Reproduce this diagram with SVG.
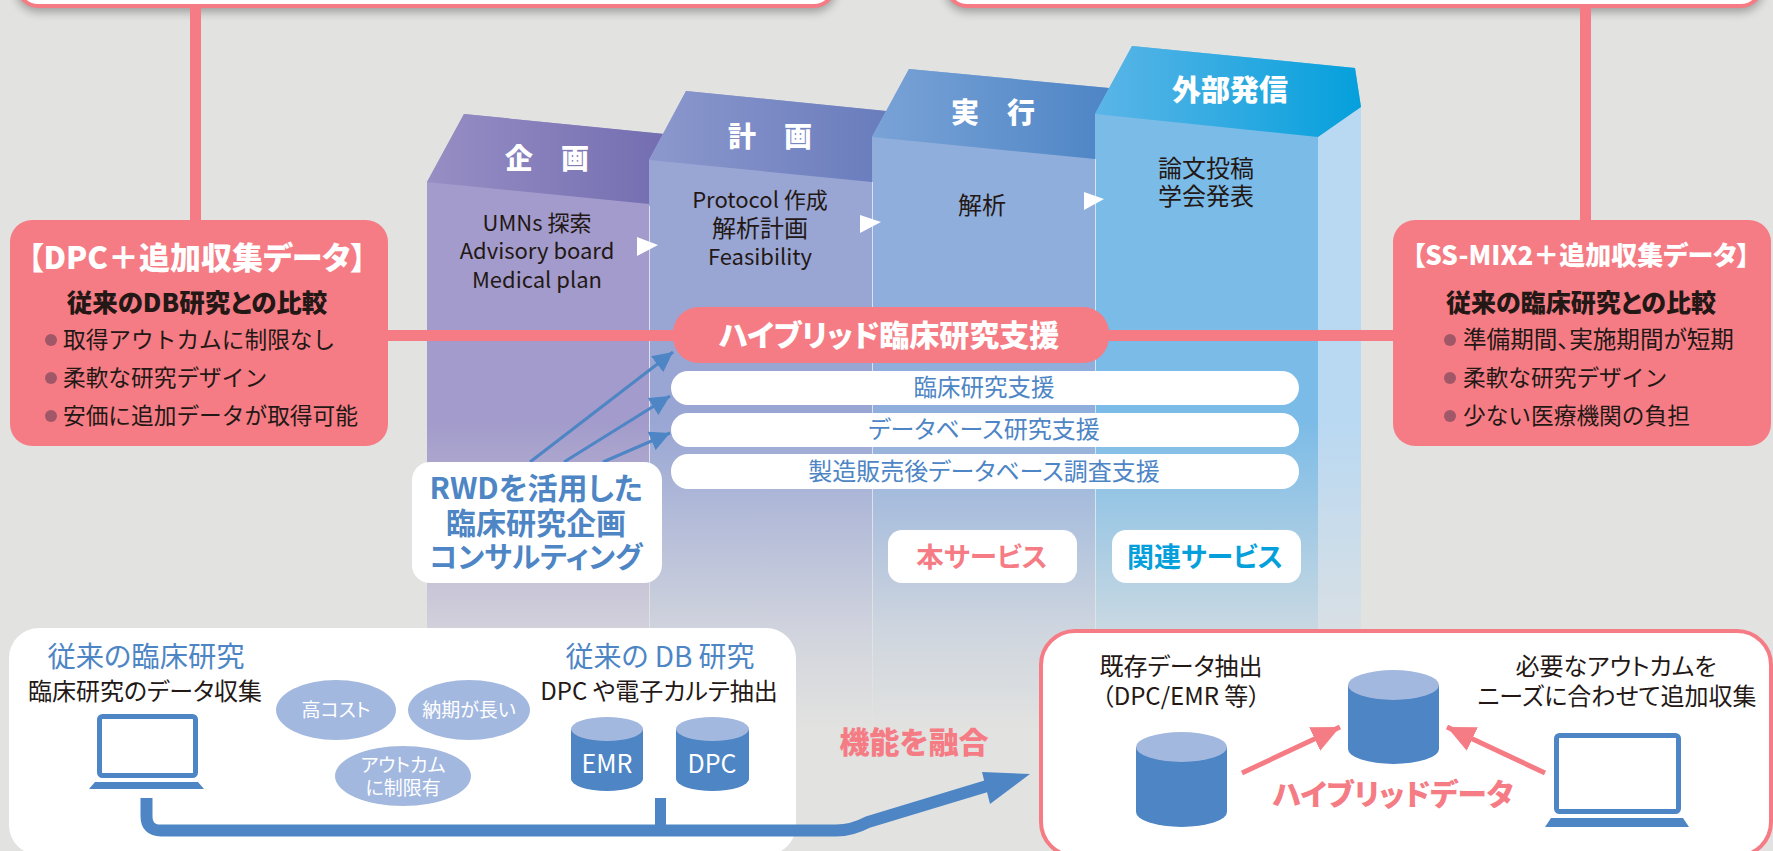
<svg xmlns="http://www.w3.org/2000/svg" width="1773" height="851" viewBox="0 0 1773 851">
<style>
text{font-family:"Noto Sans CJK JP","Noto Sans",sans-serif;font-feature-settings:"palt";text-anchor:middle;fill:#231815}
.b{font-weight:700}
.blk{font-weight:900}
.w{fill:#fff}
.bl{fill:#4d85c5}
.pk{fill:#f57c84}
.sky{fill:#05a0dc}
.col{font-size:22px}
.colj{font-size:24px}
.item{font-size:22.700px;text-anchor:start;font-feature-settings:normal}
.dot{fill:#a05768}
.box{fill:#f57c84}
.wbar{fill:#fff}
.sep{stroke:#fff;stroke-width:1;opacity:.65}
.cylb{fill:#4d85c5}
.cylt{fill:#a3b8df}
.lap{fill:#fff;stroke:#4d85c5}
.lapb{fill:#4d85c5}
.ell{fill:#a3b8df}
.tri{fill:#fff}
.pline{fill:none;stroke:#f57c84}
.bline{fill:none;stroke:#4d85c5}
</style>
<defs>
<linearGradient id="r1" x1="0" x2="1" y1="0" y2="0"><stop offset="0" stop-color="#978ec4"/><stop offset="1" stop-color="#736eb1"/></linearGradient>
<linearGradient id="r2" x1="0" x2="1" y1="0" y2="0"><stop offset="0" stop-color="#8c98cd"/><stop offset="1" stop-color="#697cbc"/></linearGradient>
<linearGradient id="r3" x1="0" x2="1" y1="0" y2="0"><stop offset="0" stop-color="#7aa3d7"/><stop offset="1" stop-color="#4e85c5"/></linearGradient>
<linearGradient id="r4" x1="0" x2="1" y1="0" y2="0"><stop offset="0" stop-color="#5bb5e7"/><stop offset="1" stop-color="#05a0dc"/></linearGradient>
<linearGradient id="fade" gradientUnits="userSpaceOnUse" x1="0" x2="0" y1="420" y2="730"><stop offset="0" stop-color="#e2e2e0" stop-opacity="0"/><stop offset=".7" stop-color="#e2e2e0" stop-opacity=".78"/><stop offset="1" stop-color="#e2e2e0"/></linearGradient>
<filter id="sh" x="-5%" y="-50%" width="110%" height="200%"><feGaussianBlur stdDeviation="5"/></filter>
<marker id="ab" markerUnits="userSpaceOnUse" markerWidth="22" markerHeight="20" refX="20" refY="10" orient="auto"><path d="M0 0L20 10L0 20Z" fill="#4d85c5"/></marker>
<marker id="ap" markerUnits="userSpaceOnUse" markerWidth="30" markerHeight="26" refX="28" refY="13" orient="auto"><path d="M0 0L28 13L0 26Z" fill="#f57c84"/></marker>
</defs>
<rect width="1773" height="851" fill="#e2e2e0"/>

<g id="col-planning">
<path d="M427 182L464 114L663 134L649 206V730H427Z" fill="#a29bcb"/>
<path d="M427 182L464 114L665 134L649 204Z" fill="url(#r1)"/>
</g>
<g id="col-plan">
<path d="M649 160L686 91L886 111L872 182V730H649Z" fill="#99a6d4"/>
<path d="M649 160L686 91L886 111L872 182Z" fill="url(#r2)"/>
</g>
<g id="col-exec">
<path d="M872 137L909 69L1109 88L1095 159V730H872Z" fill="#90aedb"/>
<path d="M872 137L909 69L1109 88L1095 159Z" fill="url(#r3)"/>
</g>
<g id="col-pub">
<path d="M1095 114L1132 46L1355 68L1361 107L1318 137V730H1095Z" fill="#7bbbe7"/>
<path d="M1318 137L1361 107V730H1318Z" fill="#b9d8f2"/>
<path d="M1095 114L1132 46L1355 68L1361 107L1318 137Z" fill="url(#r4)"/>
</g>
<path class="sep" d="M649.500 206V730M872.500 182V730M1095.500 159V730"/>
<rect x="427" y="420" width="934" height="310" fill="url(#fade)"/>

<text class="blk w" font-size="28" x="547" y="169">企　画</text>
<text class="blk w" font-size="28" x="770" y="147">計　画</text>
<text class="blk w" font-size="28" x="993" y="123">実　行</text>
<text class="blk w" font-size="29" x="1230" y="101">外部発信</text>
<text class="col" x="537" y="231">UMNs 探索</text>
<text class="col" x="537" y="259">Advisory board</text>
<text class="col" x="537" y="288">Medical plan</text>
<text class="col" x="760" y="208">Protocol 作成</text>
<text class="colj" x="760" y="237">解析計画</text>
<text class="col" x="760" y="265">Feasibility</text>
<text class="colj" x="982" y="214">解析</text>
<text class="colj" x="1206" y="177">論文投稿</text>
<text class="colj" x="1206" y="205">学会発表</text>
<path class="tri" d="M637 237L658 245L637 256Z"/>
<path class="tri" d="M860 215L881 222L860 233Z"/>
<path class="tri" d="M1084 192L1104 199L1084 210Z"/>

<g id="top-left-box">
<rect x="16" y="-60" width="820" height="72" rx="22" fill="#000" opacity=".3" filter="url(#sh)"/>
<rect x="18" y="-60" width="816" height="66" rx="20" fill="#fff" stroke="#f57c84" stroke-width="4"/>
</g>
<g id="top-right-box">
<rect x="945" y="-60" width="818" height="72" rx="22" fill="#000" opacity=".3" filter="url(#sh)"/>
<rect x="947" y="-60" width="814" height="66" rx="20" fill="#fff" stroke="#f57c84" stroke-width="4"/>
</g>

<g id="connectors">
<path class="pline" stroke-width="11" d="M195.500 8V220M1585.500 8V220"/>
<path class="pline" stroke-width="11" d="M388 335.500H1393"/>
<path class="bline" stroke-width="3" d="M530 462L673 352" marker-end="url(#ab)"/>
<path class="bline" stroke-width="3" d="M564 462L670 396" marker-end="url(#ab)"/>
<path class="bline" stroke-width="3" d="M603 462L670 433" marker-end="url(#ab)"/>
</g>

<g id="dpc-box">
<rect class="box" x="10" y="220" width="378" height="226" rx="22"/>
<text class="blk w" font-size="31" x="197" y="269">【DPC＋追加収集データ】</text>
<text class="blk" font-size="25.500" x="197" y="312">従来のDB研究との比較</text>
<circle class="dot" cx="51" cy="340" r="6"/><text class="item" x="63" y="348">取得アウトカムに制限なし</text>
<circle class="dot" cx="51" cy="378" r="6"/><text class="item" x="63" y="386">柔軟な研究デザイン</text>
<circle class="dot" cx="51" cy="416" r="6"/><text class="item" x="63" y="424">安価に追加データが取得可能</text>
</g>
<g id="ssmix-box">
<rect class="box" x="1393" y="220" width="378" height="226" rx="22"/>
<text class="blk w" font-size="26" x="1581" y="265">【SS-MIX2＋追加収集データ】</text>
<text class="blk" font-size="25" x="1581" y="312">従来の臨床研究との比較</text>
<circle class="dot" cx="1450" cy="340" r="6"/><text class="item" style="font-feature-settings:'palt';font-size:23.600px" x="1463" y="348">準備期間、実施期間が短期</text>
<circle class="dot" cx="1450" cy="378" r="6"/><text class="item" x="1463" y="386">柔軟な研究デザイン</text>
<circle class="dot" cx="1450" cy="416" r="6"/><text class="item" x="1463" y="424">少ない医療機関の負担</text>
</g>

<g id="hybrid-pill">
<rect class="box" x="673" y="307" width="436" height="56" rx="26"/>
<text class="blk w" font-size="30" x="889" y="346">ハイブリッド臨床研究支援</text>
</g>
<g id="service-1"><rect class="wbar" x="671" y="371" width="628" height="34" rx="17"/><text class="bl" font-size="23.500" x="984" y="396">臨床研究支援</text></g>
<g id="service-2"><rect class="wbar" x="671" y="413" width="628" height="34" rx="17"/><text class="bl" font-size="24" x="984" y="438">データベース研究支援</text></g>
<g id="service-3"><rect class="wbar" x="671" y="454" width="628" height="35" rx="17"/><text class="bl" font-size="24" x="984" y="480">製造販売後データベース調査支援</text></g>

<g id="rwd-box">
<rect class="wbar" x="412" y="462" width="250" height="121" rx="18"/>
<text class="b bl" font-size="30" x="536" y="499">RWDを活用した</text>
<text class="b bl" font-size="30" x="536" y="534">臨床研究企画</text>
<text class="b bl" font-size="29" x="536" y="568">コンサルティング</text>
</g>
<g id="this-service"><rect class="wbar" x="888" y="530" width="189" height="53" rx="14"/><text class="b pk" font-size="27.500" x="982" y="567">本サービス</text></g>
<g id="related-service"><rect class="wbar" x="1112" y="530" width="189" height="53" rx="14"/><text class="b sky" font-size="27" x="1205" y="567">関連サービス</text></g>

<g id="conventional-panel">
<rect x="9" y="628" width="787" height="227" rx="30" fill="#fff"/>
<text class="bl" font-size="28.300" x="146" y="667">従来の臨床研究</text>
<text font-size="24" x="145" y="700">臨床研究のデータ収集</text>
<text class="bl" font-size="28" x="660" y="667">従来の DB 研究</text>
<text font-size="24" x="659" y="700">DPC や電子カルテ抽出</text>
<rect class="lap" x="99.500" y="716.500" width="96" height="59" rx="3" stroke-width="5"/>
<path class="lapb" d="M95 782H198L204 789H89Z"/>
<ellipse class="ell" cx="336" cy="710" rx="60" ry="30"/><text class="w" font-size="19" x="336" y="717">高コスト</text>
<ellipse class="ell" cx="469" cy="710" rx="61" ry="30"/><text class="w" font-size="19" x="469" y="717">納期が長い</text>
<ellipse class="ell" cx="403" cy="776" rx="68" ry="30"/><text class="w" font-size="19" x="403" y="772">アウトカム</text><text class="w" font-size="19" x="403" y="795">に制限有</text>
<path class="cylb" d="M571 729V779A36 12 0 0 0 643 779V729Z"/><ellipse class="cylt" cx="607" cy="729" rx="36" ry="12"/><text class="w" font-size="25" x="607" y="773">EMR</text>
<path class="cylb" d="M676 729V779A36.500 12 0 0 0 749 779V729Z"/><ellipse class="cylt" cx="712.500" cy="729" rx="36.500" ry="12"/><text class="w" font-size="25" x="712" y="773">DPC</text>
</g>

<g id="hybrid-panel">
<rect x="1041" y="631" width="730" height="225" rx="34" fill="#fff" stroke="#f57c84" stroke-width="4"/>
<text font-size="24" x="1181" y="675">既存データ抽出</text>
<text font-size="24" x="1181" y="705">（DPC/EMR 等）</text>
<text font-size="24" x="1616" y="675">必要なアウトカムを</text>
<text font-size="24" x="1617" y="705">ニーズに合わせて追加収集</text>
<path class="cylb" d="M1136 747V812A45.500 15 0 0 0 1227 812V747Z"/><ellipse class="cylt" cx="1181.500" cy="747" rx="45.500" ry="15"/>
<path class="cylb" d="M1348 685V749A45.500 15 0 0 0 1439 749V685Z"/><ellipse class="cylt" cx="1393.500" cy="685" rx="45.500" ry="15"/>
<rect class="lap" x="1556.500" y="735.500" width="122" height="76" rx="3" stroke-width="5"/>
<path class="lapb" d="M1551 818H1683L1689 827H1545Z"/>
<text class="blk pk" font-size="29.500" x="1393" y="805">ハイブリッドデータ</text>
</g>

<g id="connectors-lower">
<path class="bline" stroke-width="12" d="M146.500 798V816Q146.500 830.500 161 830.500H836Q852 830.500 868 822L987 786"/>
<path class="bline" stroke-width="11" d="M660.500 798V826"/>
<path d="M982 772L1030 774L990 804Z" fill="#4d85c5"/>
<path class="pline" stroke-width="5" d="M1242 773L1340 727" marker-end="url(#ap)"/>
<path class="pline" stroke-width="5" d="M1545 773L1447 727" marker-end="url(#ap)"/>
</g>
<text class="blk pk" font-size="30" x="914" y="753">機能を融合</text>
</svg>
